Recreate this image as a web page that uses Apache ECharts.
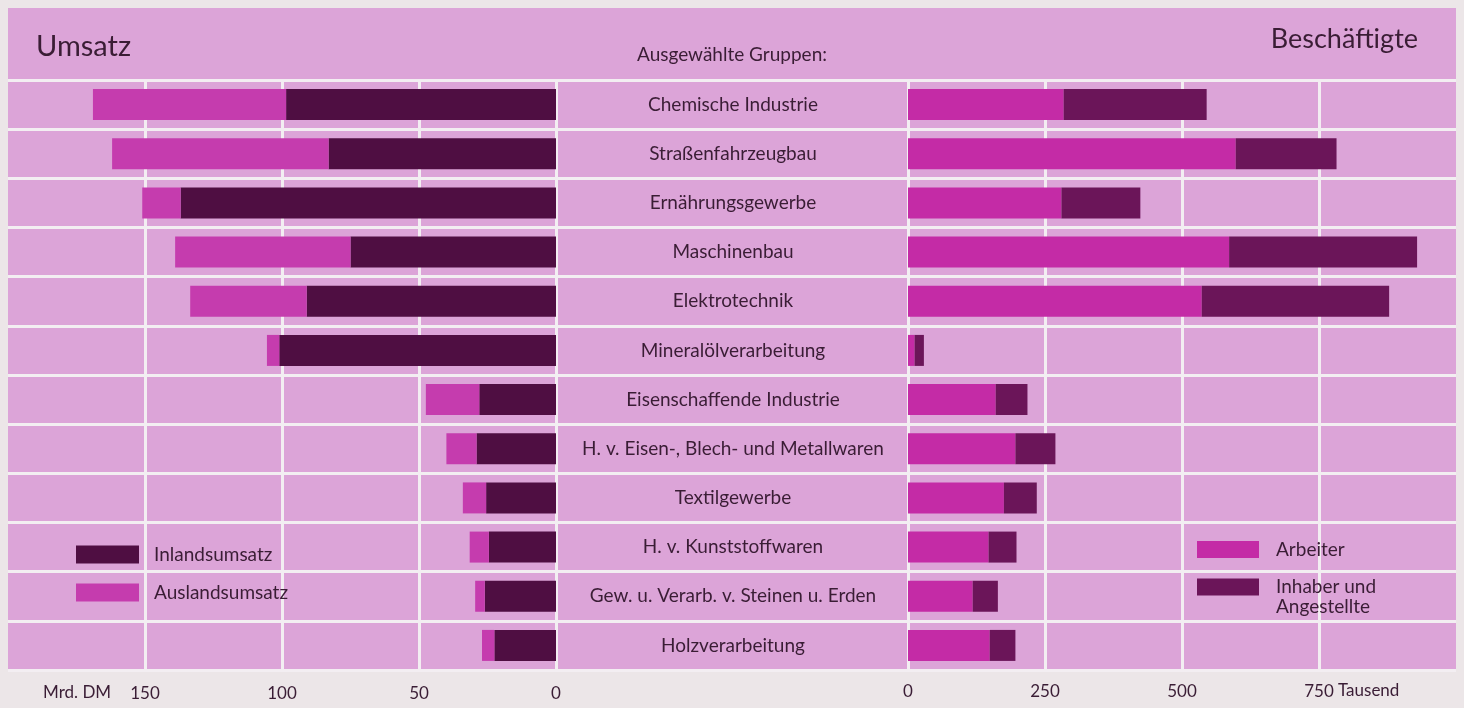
<!DOCTYPE html>
<html>
<head>
<meta charset="utf-8">
<script src="https://cdn.jsdelivr.net/npm/echarts@6/dist/echarts.min.js"></script>
<style>
  html, body { margin: 0; padding: 0; background: #ece6e8; }
  #chart { width: 1464px; height: 708px; }
</style>
</head>
<body>
<div id="chart"></div>
<script>
const categories = [
  'Chemische Industrie',
  'Straßenfahrzeugbau',
  'Ernährungsgewerbe',
  'Maschinenbau',
  'Elektrotechnik',
  'Mineralölverarbeitung',
  'Eisenschaffende Industrie',
  'H. v. Eisen-, Blech- und Metallwaren',
  'Textilgewerbe',
  'H. v. Kunststoffwaren',
  'Gew. u. Verarb. v. Steinen u. Erden',
  'Holzverarbeitung'
];
// Umsatz, Mrd. DM
const inland = [98.5, 83, 137, 75, 91, 101, 28, 29, 25.5, 24.5, 26, 22.5];
const ausland = [70.5, 79, 14, 64, 42.5, 4.5, 19.5, 11, 8.5, 7, 3.5, 4.5];
// Beschäftigte, Tausend
const arbeiter = [284, 598, 280, 586, 536, 12, 160, 196, 175, 147, 118, 149];
const inhaber = [261, 184, 144, 343, 342, 17, 58, 73, 60, 51, 46, 47];
const leftTicks = [0, 50, 100, 150];
const rightTicks = [0, 250, 500, 750];

const font = 'Lato';
const textColor = '#3a1d35';
const lineColor = '#f3eef2';
const pink = '#dca4d8';
const darkL = '#4f0e42';
const magL = '#c53cae';
const magR = '#c42ba6';
const darkR = '#6b1559';

const chart = echarts.init(document.getElementById('chart'));

const catAxis = (gridIndex) => ({
  type: 'category',
  gridIndex,
  inverse: true,
  data: categories,
  axisLine: { show: false },
  axisTick: { show: false },
  axisLabel: { show: false },
  splitLine: { show: true, interval: 0, lineStyle: { color: lineColor, width: 3 } }
});

const legendText = { fontSize: 19, color: textColor, fontFamily: font };

const option = {
  backgroundColor: '#ece6e8',
  textStyle: { fontFamily: font },
  graphic: [
    {
      type: 'rect',
      z: -10,
      shape: { x: 8, y: 8, width: 1448, height: 662 },
      style: { fill: pink }
    },
    {
      type: 'text',
      left: 43,
      top: 684,
      style: { text: 'Mrd. DM', fontSize: 17, fontFamily: font, fill: textColor }
    },
    {
      type: 'text',
      left: 1338,
      top: 682,
      style: { text: 'Tausend', fontSize: 17, fontFamily: font, fill: textColor }
    }
  ],
  title: [
    {
      text: 'Umsatz', left: 31, top: 27,
      textStyle: { fontSize: 29, fontWeight: 'normal', color: textColor, fontFamily: font }
    },
    {
      text: 'Beschäftigte', right: 41, top: 21,
      textStyle: { fontSize: 27, fontWeight: 'normal', color: textColor, fontFamily: font }
    },
    {
      text: 'Ausgewählte Gruppen:', left: 'center', top: 40,
      textStyle: { fontSize: 19, fontWeight: 'normal', color: textColor, fontFamily: font }
    }
  ],
  legend: [
    {
      data: ['Inlandsumsatz', 'Auslandsumsatz'],
      orient: 'vertical', left: 76, top: 545, padding: 0,
      itemWidth: 63, itemHeight: 18, itemGap: 19,
      icon: 'rect', selectedMode: false,
      textStyle: Object.assign({ padding: [0, 0, 0, 10] }, legendText)
    },
    {
      data: ['Arbeiter'],
      orient: 'vertical', left: 1197, top: 540, padding: 0,
      itemWidth: 62, itemHeight: 17,
      icon: 'rect', selectedMode: false,
      textStyle: Object.assign({ padding: [0, 0, 0, 12] }, legendText)
    },
    {
      data: ['Inhaber und Angestellte'],
      orient: 'vertical', left: 1197, top: 557, padding: 0,
      itemWidth: 62, itemHeight: 17,
      icon: 'rect', selectedMode: false,
      formatter: () => ' \nInhaber und\nAngestellte',
      textStyle: Object.assign({ lineHeight: 20, padding: [0, 0, 0, 12] }, legendText)
    }
  ],
  grid: [
    { left: 8, top: 80, width: 548, height: 590 },
    { left: 556, top: 80, width: 352, height: 590 },
    { left: 908, top: 80, width: 548, height: 590 }
  ],
  xAxis: [
    {
      type: 'value', gridIndex: 0, min: 0, max: 200, interval: 50, inverse: true,
      axisLine: { show: false }, axisTick: { show: false },
      axisLabel: {
        fontSize: 17, color: textColor, fontFamily: font, margin: 15,
        formatter: (v) => (leftTicks.includes(v) ? String(v) : '')
      },
      splitLine: { show: true, showMaxLine: false, lineStyle: { color: lineColor, width: 3 } }
    },
    { type: 'value', gridIndex: 1, min: 0, max: 1, show: false },
    {
      type: 'value', gridIndex: 2, min: 0, max: 1000, interval: 250,
      axisLine: { show: false }, axisTick: { show: false },
      axisLabel: {
        fontSize: 17, color: textColor, fontFamily: font, margin: 13,
        formatter: (v) => (rightTicks.includes(v) ? String(v) : '')
      },
      splitLine: { show: true, showMaxLine: false, lineStyle: { color: lineColor, width: 3 } }
    }
  ],
  yAxis: [
    catAxis(0),
    Object.assign(catAxis(1), {
      position: 'left',
      axisLabel: {
        show: true, inside: true, align: 'center', margin: 177,
        fontSize: 19, color: textColor, fontFamily: font, padding: [0, 0, 10, 0]
      }
    }),
    catAxis(2)
  ],
  series: [
    {
      name: 'Inlandsumsatz', type: 'bar', stack: 'umsatz',
      xAxisIndex: 0, yAxisIndex: 0, barWidth: 31,
      itemStyle: { color: darkL }, data: inland
    },
    {
      name: 'Auslandsumsatz', type: 'bar', stack: 'umsatz',
      xAxisIndex: 0, yAxisIndex: 0, barWidth: 31,
      itemStyle: { color: magL }, data: ausland
    },
    {
      name: 'Arbeiter', type: 'bar', stack: 'besch',
      xAxisIndex: 2, yAxisIndex: 2, barWidth: 31,
      itemStyle: { color: magR }, data: arbeiter
    },
    {
      name: 'Inhaber und Angestellte', type: 'bar', stack: 'besch',
      xAxisIndex: 2, yAxisIndex: 2, barWidth: 31,
      itemStyle: { color: darkR }, data: inhaber
    }
  ]
};

chart.setOption(option);
</script>
</body>
</html>
